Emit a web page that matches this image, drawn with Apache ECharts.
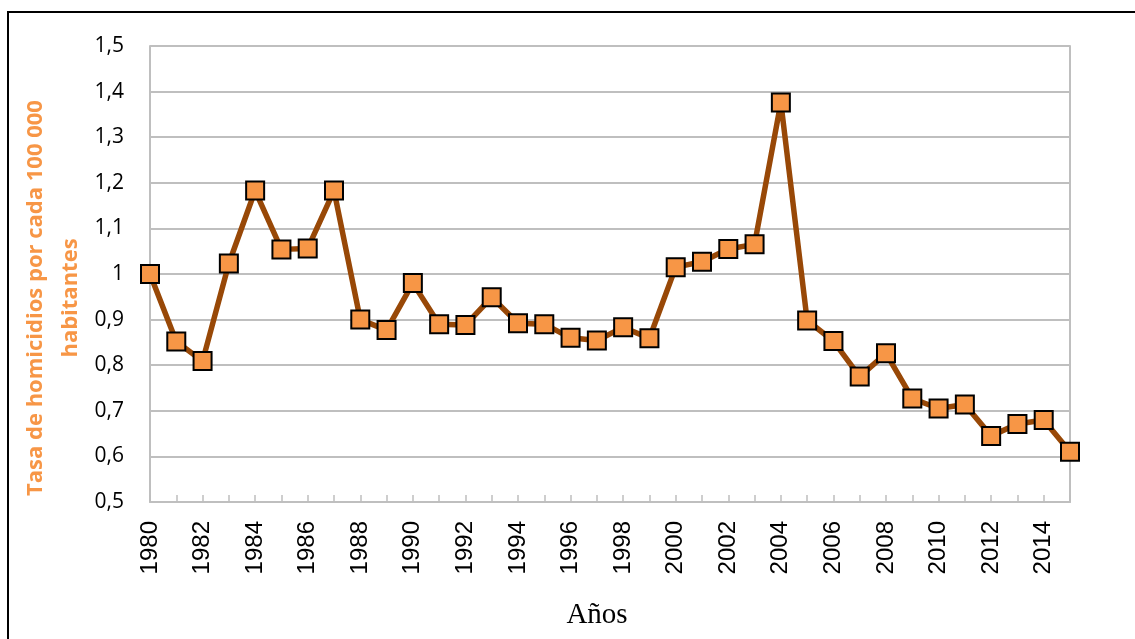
<!DOCTYPE html>
<html>
<head>
<meta charset="utf-8">
<script src="https://cdn.jsdelivr.net/npm/echarts@6/dist/echarts.min.js"></script>
<style>
    html, body { margin: 0; padding: 0; background: #fff; }
    #chart { width: 1135px; height: 639px; }
</style>
</head>
<body>
<div id="chart"></div>
<script>
// años 1980 - 2015
const years = [];
for (let y = 1980; y <= 2015; y++) years.push(String(y));

// tasa de homicidios por cada 100 000 habitantes
const tasa = [
    1.000, 0.852, 0.809, 1.023, 1.183, 1.054, 1.056, 1.183, 0.900, 0.877,
    0.980, 0.890, 0.888, 0.949, 0.892, 0.890, 0.860, 0.854, 0.883, 0.859,
    1.015, 1.027, 1.055, 1.065, 1.376, 0.898, 0.853, 0.775, 0.826, 0.727,
    0.705, 0.714, 0.645, 0.671, 0.680, 0.610
];

const yTitle = 'Tasa de homicidios por cada 100 000\nhabitantes';
const xTitle = 'Años';

const myChart = echarts.init(document.getElementById('chart'));

const option = {
    animation: false,
    backgroundColor: '#fff',
    grid: {
        left: 150,
        right: 65,
        top: 46,
        bottom: 137,
    },
    xAxis: {
        type: 'category',
        data: years,
        boundaryGap: false,
        axisLine: {
            lineStyle: { color: '#BFBFBF', width: 2 },
        },
        axisTick: {
            show: true,
            inside: true,
            length: 7,
            interval: 0,
            lineStyle: { color: '#BFBFBF', width: 1.5 },
        },
        axisLabel: {
            interval: 1,
            rotate: 90,
            margin: 19,
            fontFamily: 'Liberation Sans',
            fontSize: 24,
            color: '#000',
        },
        splitLine: { show: false },
    },
    yAxis: [
        {
            type: 'value',
            min: 0.5,
            max: 1.5,
            interval: 0.1,
            axisLine: {
                show: true,
                lineStyle: { color: '#BFBFBF', width: 2 },
            },
            axisTick: { show: false },
            axisLabel: {
                margin: 26,
                fontFamily: 'Open Sans',
                fontSize: 21,
                color: '#000',
                formatter: v => {
                    const r = Math.round(v * 10) / 10;
                    return r === 1 ? '1' : r.toFixed(1).replace('.', ',');
                },
            },
            splitLine: {
                show: true,
                lineStyle: { color: '#BFBFBF', width: 2 },
            },
        },
        {
            type: 'value',
            position: 'right',
            min: 0.5,
            max: 1.5,
            interval: 0.1,
            axisLine: {
                show: true,
                lineStyle: { color: '#BFBFBF', width: 2 },
            },
            axisTick: { show: false },
            axisLabel: { show: false },
            splitLine: { show: false },
        },
    ],
    graphic: [
        {
            type: 'rect',
            shape: { x: 8, y: 12, width: 1300, height: 800 },
            style: { fill: 'none', stroke: '#000', lineWidth: 2 },
            silent: true,
        },
        {
            type: 'text',
            x: 53,
            y: 298,
            rotation: Math.PI / 2,
            style: {
                text: yTitle,
                fill: '#F79646',
                font: 'bold 22px "Open Sans"',
                align: 'center',
                verticalAlign: 'middle',
                lineHeight: 35,
            },
        },
        {
            type: 'text',
            x: 597,
            y: 615,
            style: {
                text: xTitle,
                fill: '#000',
                font: '29px "Liberation Serif"',
                align: 'center',
                verticalAlign: 'middle',
            },
        },
    ],
    series: [
        {
            name: 'Tasa',
            type: 'line',
            data: tasa,
            symbol: 'rect',
            symbolSize: 18,
            showAllSymbol: true,
            lineStyle: { color: '#984807', width: 5.5 },
            itemStyle: {
                color: '#F79646',
                borderColor: '#000',
                borderWidth: 2,
            },
            z: 3,
        },
    ],
};

myChart.setOption(option);
</script>
</body>
</html>
